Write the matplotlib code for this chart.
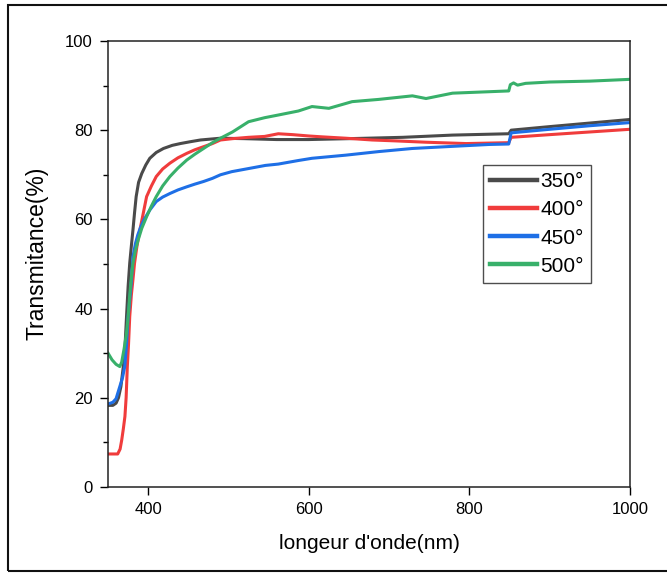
import matplotlib
matplotlib.use("Agg")
import matplotlib.pyplot as plt
from matplotlib.patches import Rectangle
from matplotlib.ticker import MultipleLocator

plt.rcParams['font.family'] = ['Liberation Sans', 'DejaVu Sans']

labels = ['350°', '400°', '450°', '500°']
colors = ['#4a4a4a', '#f03c3c', '#1e6fe6', '#38b06a']

wl_350 = [350, 356, 360, 363, 366, 369, 371, 373, 375, 377, 379, 381, 383, 385, 388, 392, 397, 402, 410, 419,
          430, 440, 452, 465, 490, 520, 560, 600, 650, 717, 779, 849, 852, 900, 950, 1000]
t_350 = [18.3, 18.3, 18.8, 20, 22.5, 27, 31, 38.2, 45, 50.2, 54, 57.6, 61.5, 65.1, 68.3, 70.3, 72.2, 73.7, 75, 75.9,
         76.6, 77.0, 77.4, 77.8, 78.2, 78.1, 77.9, 77.9, 78.1, 78.4, 78.9, 79.2, 80.0, 80.8, 81.6, 82.4]

wl_400 = [350, 362, 365, 367, 369, 371, 372.5, 374, 375.5, 377, 379, 381, 383, 386, 389.6, 394, 398, 404, 410, 418,
          427, 437, 448, 458, 469, 480, 490, 505, 525, 545, 562, 580, 600, 617, 646, 679, 708, 746, 796, 849,
          852, 900, 950, 1000]
t_400 = [7.4, 7.4, 8.5, 10.5, 13, 15.8, 20, 27, 32, 38.2, 43, 46.5, 50.2, 54, 57.6, 61.5, 65.1, 67.5, 69.6, 71.3,
         72.6, 73.8, 74.8, 75.6, 76.3, 77.0, 77.8, 78.1, 78.4, 78.6, 79.2, 79.0, 78.7, 78.5, 78.2, 77.8, 77.6, 77.3, 77.0, 77.2,
         78.4, 79.0, 79.6, 80.2]

wl_450 = [350, 356, 360, 364.6, 368, 370.8, 373, 375, 377, 379, 381, 384, 387, 390, 395, 402, 410, 418, 427, 437,
          448, 458, 469, 480, 490, 504, 525, 546, 562, 587, 604, 646, 687, 729, 771, 825, 849, 852, 900, 950, 1000]
t_450 = [18.6, 19, 19.8, 22.5, 24.5, 27, 32, 38.2, 42, 46, 51.6, 54.5, 56.5, 58, 60, 62.1, 64.0, 65.0, 65.8, 66.6,
         67.3, 67.9, 68.5, 69.2, 70.0, 70.7, 71.4, 72.1, 72.4, 73.2, 73.7, 74.4, 75.2, 75.9, 76.3, 76.8, 76.9, 79.4, 80.2, 81.0, 81.7]

wl_500 = [350, 355, 360, 364.6, 367, 370, 373, 375, 377, 379, 381, 384, 387.5, 392, 398, 404, 410, 418, 427, 437,
          448, 458, 469, 480, 490, 505, 525, 545, 562, 587, 604, 625, 654, 687, 729, 746, 779, 821, 849, 851,
          855, 860, 870, 900, 950, 1000]
t_500 = [30, 28.5, 27.5, 27, 28, 31, 34.5, 38.2, 43, 47, 50.2, 53, 55.4, 58, 60.6, 63, 65.1, 67.5, 69.6, 71.5,
         73.3, 74.6, 75.9, 77.2, 78.2, 79.6, 81.9, 82.8, 83.4, 84.3, 85.3, 84.9, 86.4, 86.9, 87.7, 87.1, 88.3, 88.6, 88.8, 90.2,
         90.6, 90.1, 90.5, 90.8, 91.0, 91.4]

series = [(wl_350, t_350), (wl_400, t_400), (wl_450, t_450), (wl_500, t_500)]

fig = plt.figure(figsize=(6.67, 5.74), dpi=100)
ax = fig.add_axes([0.162, 0.1516, 0.7825, 0.777])

for (x, y), c, lab in zip(series, colors, labels):
    ax.plot(x, y, color=c, lw=2.2, label=lab, solid_joinstyle='round')

ax.set_xlim(350, 1000)
ax.set_ylim(0, 100)
ax.set_xticks([400, 600, 800, 1000])
ax.yaxis.set_major_locator(MultipleLocator(20))
ax.yaxis.set_minor_locator(MultipleLocator(10))
ax.tick_params(axis='both', which='major', direction='out', length=6, width=1, labelsize=12, pad=5)
ax.tick_params(axis='y', which='minor', direction='out', length=3.5, width=1)
for s in ax.spines.values():
    s.set_linewidth(1.1)
    s.set_color('#222222')

ax.set_xlabel("longeur d'onde(nm)", fontsize=15, labelpad=12)
ax.set_ylabel("Transmitance(%)", fontsize=16.5)
ax.yaxis.set_label_coords(-0.115, 0.525)

leg = ax.legend(loc='upper left', bbox_to_anchor=(0.718, 0.722), fontsize=15, frameon=True,
                fancybox=False, handlelength=2.25, handletextpad=0.15, labelspacing=0.44,
                borderpad=0.35, borderaxespad=0)
leg.get_frame().set_edgecolor('#222222')
leg.get_frame().set_linewidth(1.0)
for line in leg.get_lines():
    line.set_linewidth(3.2)

fig.patches.append(Rectangle((8 / 667, 3 / 574), 1.2, 1 - 8 / 574, transform=fig.transFigure,
                             fill=False, edgecolor='#111111', lw=1.5))

fig.savefig('out.png', dpi=100)
